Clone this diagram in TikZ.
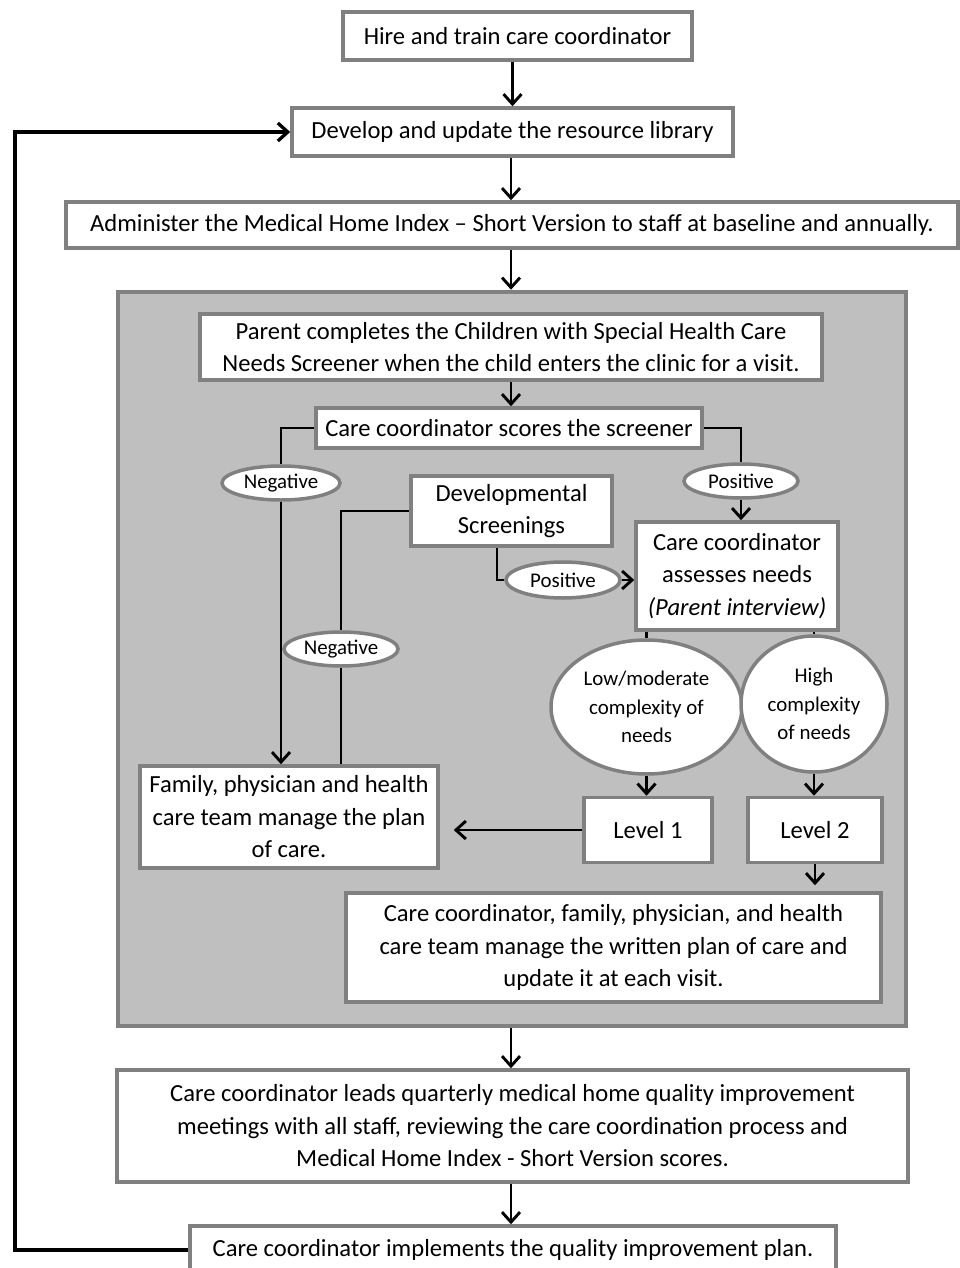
\documentclass[tikz,border=0pt]{standalone}
\usepackage{fontspec}
\setmainfont{Carlito}
\usetikzlibrary{shapes.geometric,arrows.meta}
\definecolor{panelgray}{RGB}{191,191,191}
\definecolor{edgegray}{RGB}{128,128,128}
\tikzset{
	stage/.style={draw=edgegray,line width=3.5pt,fill=white,inner sep=0pt,align=center,
		font=\fontsize{24.6}{32.5}\selectfont},
	result/.style={ellipse,draw=edgegray,line width=3.5pt,fill=white,inner sep=0pt,align=center,
		font=\fontsize{20.9}{28.5}\selectfont},
	flow/.style={line width=2.9pt},
	pointer/.style={flow,-{Straight Barb[length=10pt,width=18pt]}}
}

\begin{document}
\begin{tikzpicture}[x=1pt,y=-1pt]
		
		% we fix the frame of the picture
		\useasboundingbox (0,0) rectangle (960,1268);
		\clip (0,0) rectangle (960,1268);
		\coordinate (axis) at (511,0);
		
		% we draw the gray panel behind the screening steps
		\node (panel) [draw=edgegray,fill=panelgray,line width=4.5pt,
		minimum width=788pt,minimum height=734pt] at (512,659) {};
		
		% we place the boxes of the main column
		\node (hire) [stage,minimum width=349pt,minimum height=48pt] at (517.5,36)
		{Hire and train care coordinator};
		\node (develop) [stage,minimum width=441pt,minimum height=48pt] at (512.5,132)
		{Develop and update the resource library};
		\node (admin) [stage,minimum width=892pt,minimum height=46pt] at (512,225)
		{Administer the Medical Home Index -- Short Version to staff at baseline and annually.};
		\node (quarterly) [stage,minimum width=791pt,minimum height=112pt] at (512.5,1126)
		{Care coordinator leads quarterly medical home quality improvement\\
			meetings with all staff, reviewing the care coordination process and\\
			Medical Home Index - Short Version scores.};
		\node (implement) [stage,minimum width=646pt,minimum height=48pt] at (513,1250)
		{Care coordinator implements the quality improvement plan.};
		
		% we place the boxes inside the panel
		\node (parent) [stage,minimum width=622pt,minimum height=66pt] at (511,347)
		{Parent completes the Children with Special Health Care\\
			Needs Screener when the child enters the clinic for a visit.};
		\node (scores) [stage,minimum width=386pt,minimum height=40pt] at (509,428)
		{Care coordinator scores the screener};
		\node (devel) [stage,minimum width=201pt,minimum height=70pt] at (511.5,511)
		{Developmental\\Screenings};
		\node (assess) [stage,minimum width=202pt,minimum height=108pt] at (737,576)
		{Care coordinator\\assesses needs\\\textit{(Parent interview)}};
		\node (family) [stage,minimum width=298pt,minimum height=102pt] at (289,817)
		{Family, physician and health\\care team manage the plan\\of care.};
		\node (level1) [stage,minimum width=128pt,minimum height=65pt] at (648,830) {Level 1};
		\node (level2) [stage,minimum width=134pt,minimum height=65pt] at (815,830) {Level 2};
		\node (team) [stage,minimum width=535pt,minimum height=109pt] at (613.5,947.5)
		{Care coordinator, family, physician, and health\\
			care team manage the written plan of care and\\
			update it at each visit.};
		
		% we place the ellipses with the outcomes
		\node (neg1) [result,minimum width=118pt,minimum height=34pt] at (281,483) {Negative};
		\node (pos1) [result,minimum width=114pt,minimum height=34pt] at (741,481) {Positive};
		\node (neg2) [result,minimum width=114pt,minimum height=34pt] at (341,649) {Negative};
		\node (pos2) [result,minimum width=114pt,minimum height=36pt] at (563,580) {Positive};
		\node (low) [result,minimum width=191pt,minimum height=134pt] at (646.5,707)
		{Low/moderate\\complexity of\\needs};
		\node (high) [result,minimum width=146pt,minimum height=136pt] at (814,704)
		{High\\complexity\\of needs};
		
		% we draw the arrows down the middle
		\draw[pointer] (develop.north |- hire.south) -- (develop.north);
		\foreach \from/\to in {develop/admin,admin/panel,parent/scores,panel/quarterly,quarterly/implement}
		\draw[pointer] (\from.south -| axis) -- (\to.north -| axis);
		
		% we draw the branches of the screener
		\draw[flow] (scores.west) -| (neg1.north);
		\draw[pointer] (neg1.south) -- (neg1.south |- family.north);
		\draw[flow] (scores.east) -| (pos1.north);
		\draw[pointer] (pos1.south) -- (pos1.south |- assess.north);
		
		% we draw the branches of the developmental screenings
		\draw[flow] (devel.west) -| (neg2.north);
		\draw[flow] (neg2.south) -- (neg2.south |- family.north);
		\draw[flow] ([xshift=-14.5pt]devel.south) |- (pos2.west);
		\draw[pointer] (pos2.east) -- (pos2.east -| assess.west);
		
		% we draw the levels of needs
		\draw[flow] (low.north |- assess.south) -- (low.north);
		\draw[flow] (high.north |- assess.south) -- (high.north);
		\draw[pointer] (low.south) -- (low.south |- level1.north);
		\draw[pointer] (high.south) -- (high.south |- level2.north);
		\draw[pointer,shorten >=14pt] (level1.west) -- (level1.west -| family.east);
		\draw[pointer,shorten >=6pt] (level2.south) -- (level2.south |- team.north);
		
		% we draw the loop back to the resource library
		\coordinate (back) at (15,700);
		\draw[pointer,line width=3.3pt] (implement.west) -| (back) |- (develop.west);
		
	\end{tikzpicture}
\end{document}
